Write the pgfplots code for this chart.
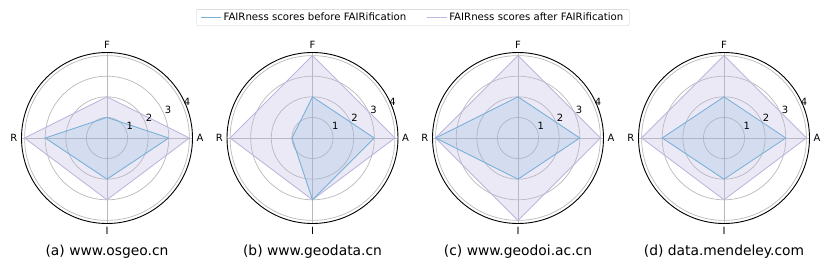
\documentclass[border=0pt]{standalone}
\usepackage{pgfplots}
\pgfplotsset{compat=1.18}
\usepgfplotslibrary{polar}
\usepackage{fontspec}
\setmainfont{DejaVu Sans}
\definecolor{beforec}{RGB}{122,176,216}
\definecolor{afterc}{RGB}{190,182,222}
\definecolor{gridc}{RGB}{185,185,185}
\definecolor{legc}{RGB}{204,204,204}
\pgfplotsset{
  radar/.style={
    width=171bp, height=171bp, scale only axis, anchor=center,
    ymin=0, ymax=4.15,
    xtick={0,90,180,270}, xticklabels={A,F,R,I},
    ytick={1,2,3,4}, yticklabels={},
    major tick length=0pt,
    grid=major, major grid style={gridc, line width=0.7bp},
    axis line style={black, line width=0.9bp},
    y axis line style={draw=none},
    xticklabel style={font=\fontsize{10}{12}\selectfont, inner sep=4bp},
    clip=false,
  },
  before/.style={draw=beforec, line width=0.9bp, fill=beforec, fill opacity=0.2, draw opacity=1},
  after/.style={draw=afterc, line width=0.9bp, fill=afterc, fill opacity=0.3, draw opacity=1},
}
\newcommand\rlab{%
  \pgfplotsinvokeforeach{1,2,3,4}{\node[anchor=south west, inner sep=0.5bp, font=\fontsize{10}{12}\selectfont] at (axis cs:22.5,##1) {##1};}%
}
\begin{document}
\begin{tikzpicture}
\useasboundingbox (0,0) rectangle (831bp,267bp);
% (a)
\begin{polaraxis}[radar, at={(107bp,129bp)},
  legend columns=2,
  legend style={at={(axis description cs:2.289,1.205)}, anchor=center,
    draw=legc, rounded corners=2bp,
    font=\fontsize{10.2}{12}\selectfont, inner xsep=4bp, inner ysep=1.5bp,
    /tikz/every even column/.append style={column sep=18bp}},
]
\addlegendimage{legend image code/.code={\draw[beforec, line width=1.1bp] (0bp,0bp) -- (20bp,0bp);}}
\addlegendentry{FAIRness scores before FAIRification}
\addlegendimage{legend image code/.code={\draw[afterc, line width=1.1bp] (0bp,0bp) -- (20bp,0bp);}}
\addlegendentry{FAIRness scores after FAIRification}
\addplot[after, forget plot] coordinates {(0,4) (90,2) (180,4) (270,3) (360,4)};
\addplot[before, forget plot] coordinates {(0,3) (90,1) (180,3) (270,2) (360,3)};
\rlab
\end{polaraxis}
% (b)
\begin{polaraxis}[radar, at={(312.5bp,129bp)}]
\addplot[after] coordinates {(0,4) (90,4) (180,4) (270,3) (360,4)};
\addplot[before] coordinates {(0,3) (90,2) (180,1) (270,3) (360,3)};
\rlab
\end{polaraxis}
% (c)
\begin{polaraxis}[radar, at={(518bp,129bp)}]
\addplot[after] coordinates {(0,4) (90,4) (180,4) (270,4) (360,4)};
\addplot[before] coordinates {(0,3) (90,2) (180,4) (270,2) (360,3)};
\rlab
\end{polaraxis}
% (d)
\begin{polaraxis}[radar, at={(724bp,129bp)}]
\addplot[after] coordinates {(0,4) (90,4) (180,4) (270,3) (360,4)};
\addplot[before] coordinates {(0,3) (90,2) (180,3) (270,2) (360,3)};
\rlab
\end{polaraxis}
\begin{scope}[every node/.style={font=\fontsize{13.9}{16}\selectfont}]
\node at (107bp,15bp) {(a) www.osgeo.cn};
\node at (312.5bp,15bp) {(b) www.geodata.cn};
\node at (518bp,15bp) {(c) www.geodoi.ac.cn};
\node at (724bp,15bp) {(d) data.mendeley.com};
\end{scope}
\end{tikzpicture}
\end{document}
